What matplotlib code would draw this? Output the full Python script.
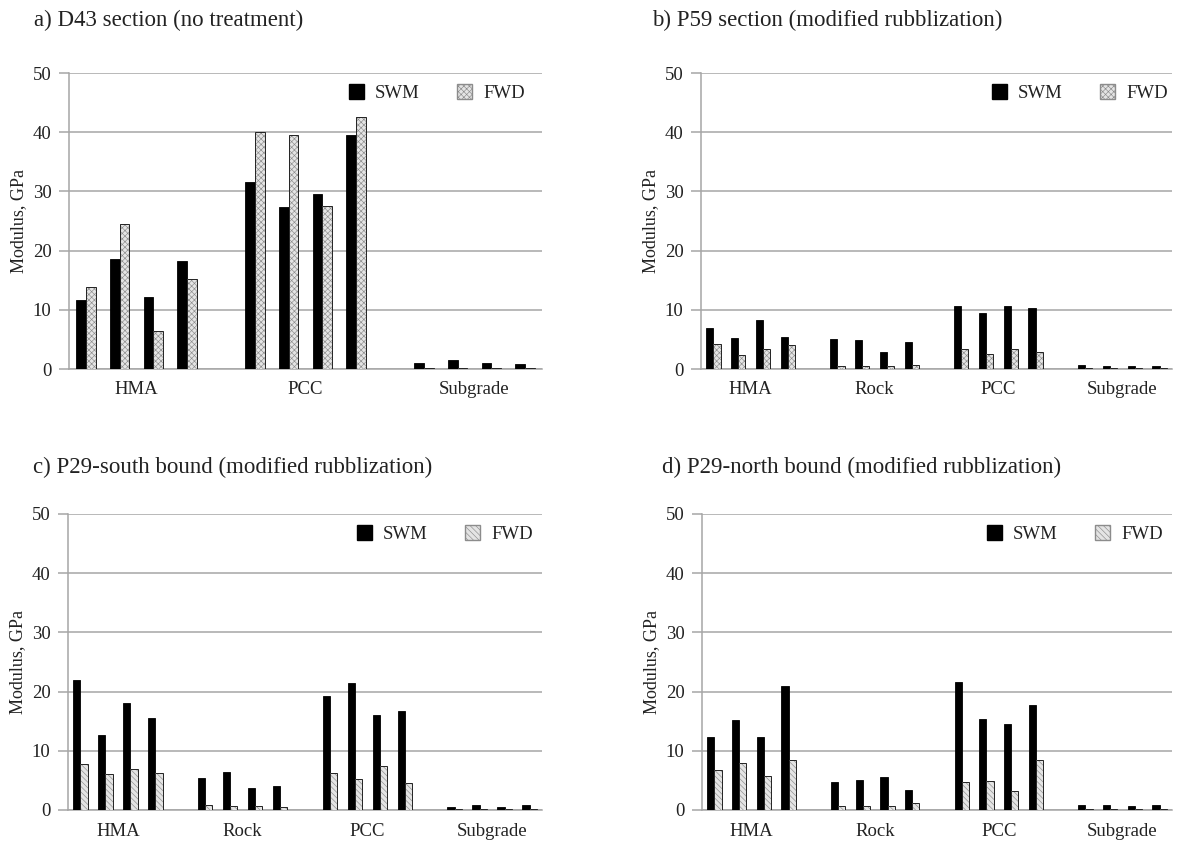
import matplotlib
matplotlib.use("Agg")
import matplotlib.pyplot as plt
from matplotlib.patches import Patch
import numpy as np

plt.rcParams['font.family'] = ['Liberation Serif', 'DejaVu Serif']
plt.rcParams['hatch.linewidth'] = 0.45

# ---------------- data ----------------
groups_a = ["HMA", "PCC", "Subgrade"]
swm_a = [11.7, 18.5, 12.2, 18.3,
         31.6, 27.3, 29.5, 39.5,
         0.95, 1.5, 1.05, 0.8]
fwd_a = [13.8, 24.5, 6.5, 15.2,
         40.0, 39.6, 27.6, 42.6,
         0.1, 0.1, 0.1, 0.1]

groups_4 = ["HMA", "Rock", "PCC", "Subgrade"]
swm_b = [7.0, 5.2, 8.2, 5.4,
         5.0, 4.9, 2.9, 4.6,
         10.6, 9.5, 10.7, 10.3,
         0.6, 0.45, 0.45, 0.5]
fwd_b = [4.3, 2.4, 3.4, 4.1,
         0.55, 0.5, 0.5, 0.7,
         3.3, 2.5, 3.3, 2.8,
         0.1, 0.1, 0.1, 0.1]

swm_c = [22.0, 12.7, 18.0, 15.6,
         5.4, 6.4, 3.8, 4.0,
         19.2, 21.4, 16.0, 16.7,
         0.45, 0.9, 0.45, 0.8]
fwd_c = [7.75, 6.0, 7.0, 6.2,
         0.8, 0.6, 0.7, 0.5,
         6.3, 5.2, 7.5, 4.5,
         0.1, 0.1, 0.1, 0.1]

swm_d = [12.4, 15.2, 12.4, 21.0,
         4.7, 5.1, 5.5, 3.3,
         21.6, 15.4, 14.6, 17.8,
         0.8, 0.8, 0.6, 0.8]
fwd_d = [6.7, 7.9, 5.8, 8.4,
         0.6, 0.7, 0.6, 1.1,
         4.7, 4.9, 3.2, 8.4,
         0.1, 0.1, 0.1, 0.1]

titles = ["a) D43 section (no treatment)",
          "b) P59 section (modified rubblization)",
          "c) P29-south bound (modified rubblization)",
          "d) P29-north bound (modified rubblization)"]
series_names = ["SWM", "FWD"]
yticks = [0, 10, 20, 30, 40, 50]
ylabel = "Modulus, GPa"

# ---------------- layout ----------------
W, H = 1178, 841
fig = plt.figure(figsize=(W / 100, H / 100), dpi=100)

def rect(l, t, r, b):
    return [l / W, 1 - b / H, (r - l) / W, (b - t) / H]

GRID = '#a6a6a6'
FWD_FACE = '#e4e4e4'
FWD_HATCH = '#8c8c8c'
BW = 0.29

panels = [
    (rect(69, 73, 542, 369), groups_a, swm_a, fwd_a, (34, 20), 525, 'xxxxxx'),
    (rect(701, 73, 1172, 369), groups_4, swm_b, fwd_b, (652, 20), 1168, 'xxxxxx'),
    (rect(68, 514, 542, 810), groups_4, swm_c, fwd_c, (33, 467), 533, '\\\\\\\\\\\\'),
    (rect(702, 514, 1172, 810), groups_4, swm_d, fwd_d, (662, 467), 1163, '\\\\\\\\\\\\'),
]

for (r, groups, swm, fwd, tpos, leg_right, hatch), title in zip(panels, titles):
    ax = fig.add_axes(r)
    ng = len(groups)
    pos = np.array([g * 5 + i for g in range(ng) for i in range(4)], dtype=float)
    nslots = ng * 5 - 1
    ax.bar(pos - BW / 2, swm, width=BW, color='black', edgecolor='black',
           linewidth=0.6, zorder=3)
    ax.bar(pos + BW / 2, fwd, width=BW, color=FWD_FACE, edgecolor=FWD_HATCH,
           hatch=hatch, linewidth=0, zorder=3)
    ax.bar(pos + BW / 2, fwd, width=BW, fill=False, edgecolor='#222222',
           linewidth=0.7, zorder=4)

    ax.set_xlim(-0.5, nslots - 0.5)
    ax.set_ylim(0, 50)
    ax.set_yticks(yticks)
    ax.yaxis.grid(True, color=GRID, linewidth=1.1, zorder=0)
    ax.set_axisbelow(True)
    for s in ['top', 'right']:
        ax.spines[s].set_visible(False)
    for s in ['left', 'bottom']:
        ax.spines[s].set_color(GRID)
        ax.spines[s].set_linewidth(1.1)
    ax.tick_params(axis='y', direction='out', length=7.5, width=1.1,
                   color=GRID, labelsize=13.5, labelcolor='#222222', pad=5)
    centers = [g * 5 + 1.5 for g in range(ng)]
    ax.set_xticks(centers)
    ax.set_xticklabels(groups)
    ax.tick_params(axis='x', length=0, labelsize=13.5, labelcolor='#222222', pad=9)
    ax.set_ylabel(ylabel, fontsize=13, color='#222222', labelpad=4)

    handles = [Patch(facecolor='black', edgecolor='black'),
               Patch(facecolor=FWD_FACE, edgecolor=FWD_HATCH, hatch=hatch)]
    bb = ax.get_position()
    lx = (leg_right / W - bb.x0) / bb.width
    ax.legend(handles, series_names, loc='center right',
              bbox_to_anchor=(lx, 0.932), ncol=2, frameon=False,
              fontsize=13.5, handlelength=0.8, handleheight=0.8,
              handletextpad=0.6, columnspacing=2.0, borderpad=0,
              borderaxespad=0, labelcolor='#222222')

    fig.text(tpos[0] / W, 1 - tpos[1] / H, title, fontsize=16.5,
             color='#222222', ha='left', va='center')

fig.savefig("out.png", dpi=100)
